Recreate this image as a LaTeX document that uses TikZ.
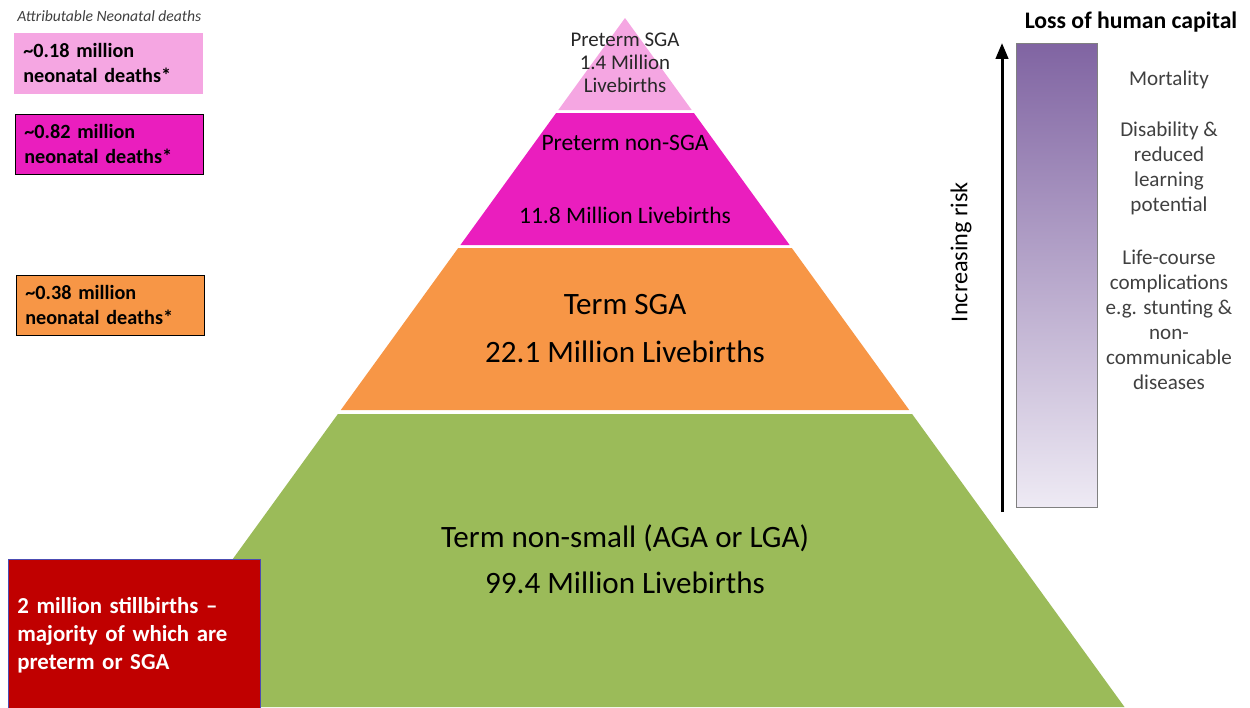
\documentclass[tikz,border=0pt]{standalone}
\usepackage{fontspec}
\setmainfont{Carlito}
\usetikzlibrary{arrows.meta}
\definecolor{sgapink}{RGB}{245,166,226}
\definecolor{pretermmag}{RGB}{234,30,190}
\definecolor{termorange}{RGB}{247,150,70}
\definecolor{termgreen}{RGB}{155,187,89}
\definecolor{stillred}{RGB}{192,0,0}
\definecolor{riskdark}{RGB}{128,100,162}
\definecolor{risklight}{RGB}{238,234,244}
\definecolor{textgrey}{RGB}{64,64,64}
\tikzset{
  deathbox/.style={draw=black, anchor=north west, minimum width=3.76cm,
    minimum height=1.2cm, text width=3.4cm, inner xsep=0.18cm, align=left,
    font=\bfseries\fontsize{11.5}{14.2}\selectfont},
  biglabel/.style={font=\fontsize{17.7}{20}\selectfont},
  midlabel/.style={font=\fontsize{13.4}{15}\selectfont},
  sidelabel/.style={align=center, text=textgrey, font=\fontsize{12}{14.2}\selectfont},
}
\begin{document}
\begin{tikzpicture}[x=0.02cm,y=-0.02cm]
\useasboundingbox (0,0) rectangle (1250,707);
% pyramid
\fill[sgapink] (625,18)--(691.7,110)--(558.3,110)--cycle;
\fill[pretermmag] (556.1,113)--(693.9,113)--(789.6,245)--(460.4,245)--cycle;
\fill[termorange] (458.2,248)--(791.8,248)--(909.2,410)--(340.8,410)--cycle;
\fill[termgreen] (337.9,414)--(912.1,414)--(1124.5,707)--(125.5,707)--cycle;
\node[font=\fontsize{11.9}{13}\selectfont, align=center, text=textgrey!60!black] (psga) at (625,63)
  {Preterm SGA\\1.4 Million\\Livebirths};
\node[midlabel] (pnsga) at (625,143) {Preterm non-SGA};
\node[midlabel] (pnsgan) at (625,215) {11.8 Million Livebirths};
\node[biglabel] (tsga) at (625,305) {Term SGA};
\node[biglabel] (tsgan) at (625,352) {22.1 Million Livebirths};
\node[biglabel] (tns) at (625,538) {Term non-small (AGA or LGA)};
\node[biglabel] (tnsn) at (625,583) {99.4 Million Livebirths};
% neonatal deaths
\node[font=\itshape\fontsize{8.9}{10}\selectfont, text=textgrey, anchor=west, inner sep=0pt] (attr) at (17,16)
  {Attributable Neonatal deaths};
\node[deathbox, draw=sgapink, fill=sgapink] (d18) at (14,33)
  {\textasciitilde0.18 million\\neonatal deaths*};
\node[deathbox, fill=pretermmag] (d82) at (15,114)
  {\textasciitilde0.82 million\\neonatal deaths*};
\node[deathbox, fill=termorange] (d38) at (16,275)
  {\textasciitilde0.38 million\\neonatal deaths*};
% stillbirths
\node[draw=gray!60!blue, fill=stillred, anchor=north west, minimum width=5.04cm,
  minimum height=3.02cm, text width=4.68cm, inner xsep=0.18cm, align=left,
  text=white, font=\bfseries\fontsize{13}{15.9}\selectfont] (still) at (8,559)
  {2 million stillbirths --\\majority of which are\\preterm or SGA};
% human capital
\node[font=\bfseries\fontsize{13.5}{15}\selectfont] (loss) at (1131,22) {Loss of human capital};
\shade[top color=riskdark, bottom color=risklight, draw=gray] (1016,43) rectangle (1097,507);
\coordinate (rbot) at (1002,512);
\coordinate (rtop) at (1002,43);
\draw[line width=1.7pt, -{Triangle[length=9pt, width=7pt]}] (rbot) -- (rtop);
\node[rotate=90, font=\fontsize{13.8}{15}\selectfont] (risk) at (961,252) {Increasing risk};
\node[sidelabel] (mort) at (1169,80) {Mortality};
\node[sidelabel] (disab) at (1169,168.5) {Disability \&\\reduced\\learning\\potential};
\node[sidelabel] (life) at (1169,319.5)
  {Life-course\\complications\\e.g. stunting \&\\non-\\communicable\\diseases};
\end{tikzpicture}
\end{document}
